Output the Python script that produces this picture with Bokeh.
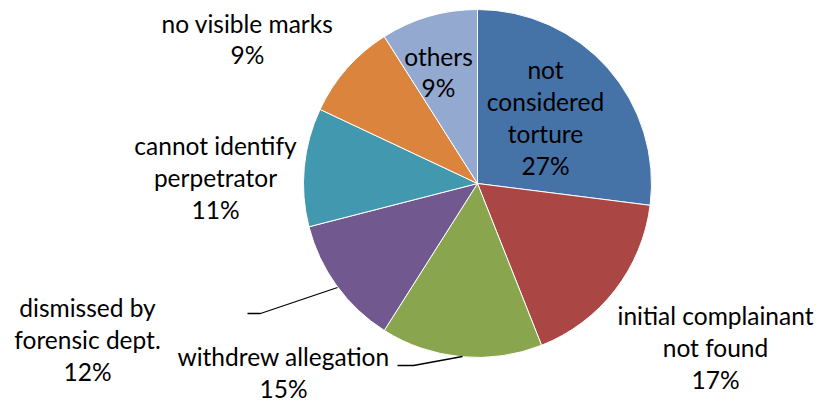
import math
from bokeh.plotting import figure
from bokeh.models import ColumnDataSource, Range1d
from bokeh.core.properties import value
from bokeh.embed import file_html
from bokeh.resources import INLINE

# ---- data ----
categories = ["not\nconsidered\ntorture", "initial complainant\nnot found",
              "withdrew allegation", "dismissed by\nforensic dept.",
              "cannot identify\nperpetrator", "no visible marks", "others"]
percentages = [27, 17, 15, 12, 11, 9, 9]
colors = ["#4572A7", "#AA4643", "#89A54E", "#71588F", "#4198AF", "#DB843D", "#93A9CF"]

# ---- layout (screenshot pixel coords -> data coords) ----
W, H = 819, 402
def px(x): return x
def py(y): return H - y

cx, cy, R = px(477), py(183), 174
label_pos = [(545, 117), (715, 347), (283, 372), (87, 339), (215, 177), (247, 38.5), (438, 71.5)]

total = float(sum(percentages))
starts, ends = [], []
acc = 0.0
for v in percentages:
    starts.append(math.pi / 2 - 2 * math.pi * acc / total)
    acc += v
    ends.append(math.pi / 2 - 2 * math.pi * acc / total)

src = ColumnDataSource(dict(start=starts, end=ends, color=colors,
                            x=[cx] * len(percentages), y=[cy] * len(percentages)))

p = figure(width=W, height=H, output_backend="svg", toolbar_location=None,
           x_range=Range1d(0, W), y_range=Range1d(0, H), min_border=0)
p.axis.visible = False
p.grid.visible = False
p.outline_line_color = None
p.background_fill_color = "white"
p.border_fill_color = "white"

p.wedge(x="x", y="y", radius=R, start_angle="start", end_angle="end",
        direction="clock", fill_color="color", line_color="white", line_width=1, source=src)

# leader lines
p.line([px(247), px(260), px(337)], [py(313), py(313), py(287)], line_color="black", line_width=1.3)
p.line([px(397), px(413), px(462)], [py(365), py(365), py(356)], line_color="black", line_width=1.3)

texts = [f"{c}\n{v}%" for c, v in zip(categories, percentages)]
lsrc = ColumnDataSource(dict(x=[px(a) for a, b in label_pos], y=[py(b) for a, b in label_pos], text=texts))
p.text(x="x", y="y", text="text", source=lsrc, text_align="center", text_baseline="middle",
       text_font=value("Lato"), text_font_size="24.5px", text_color="black", text_line_height=1.1)

open("out.html", "w").write(file_html(p, INLINE))
